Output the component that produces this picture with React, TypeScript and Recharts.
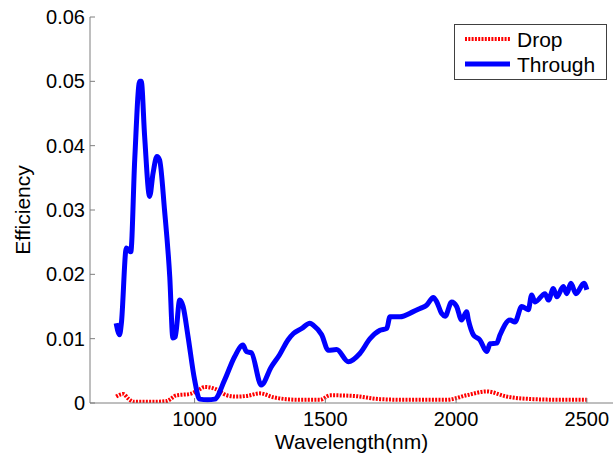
import { LineChart, Line, XAxis, YAxis, Legend } from 'recharts'

// Through port spectrum (wavelength in nm, efficiency)
const throughWl = [
  700, 713, 720, 739, 756, 771, 790, 796, 809, 828, 841, 856, 866, 885, 905, 917,
  926, 943, 956, 975, 1000, 1019, 1050, 1077, 1115, 1153, 1185, 1198, 1217, 1255,
  1293, 1325, 1357, 1378, 1410, 1441, 1454, 1486, 1511, 1543, 1588, 1632, 1671,
  1709, 1735, 1747, 1785, 1836, 1862, 1887, 1913, 1925, 1945, 1958, 1983, 2002,
  2021, 2040, 2047, 2066, 2091, 2117, 2130, 2155, 2168, 2206, 2225, 2251, 2276,
  2289, 2302, 2340, 2353, 2372, 2385, 2410, 2423, 2439, 2458, 2489, 2500,
]
const throughEff = [
  0.0124, 0.0106, 0.0124, 0.0241, 0.0235, 0.0378, 0.05, 0.05, 0.0414, 0.0321,
  0.0357, 0.0383, 0.0378, 0.03, 0.0196, 0.0101, 0.0103, 0.016, 0.015, 0.0103,
  0.0036, 0.0006, 0.0005, 0.0006, 0.0036, 0.0072, 0.009, 0.008, 0.0078, 0.0028,
  0.0056, 0.0075, 0.0098, 0.0108, 0.0116, 0.0124, 0.0121, 0.0106, 0.0082, 0.0083,
  0.0064, 0.0077, 0.01, 0.0113, 0.0116, 0.0134, 0.0134, 0.0142, 0.0147, 0.0152,
  0.0164, 0.0158, 0.0139, 0.0135, 0.0157, 0.015, 0.0129, 0.0142, 0.0129, 0.0106,
  0.0098, 0.008, 0.0092, 0.0093, 0.0106, 0.0129, 0.0126, 0.015, 0.0145, 0.0168,
  0.0157, 0.017, 0.016, 0.0178, 0.0165, 0.0181, 0.017, 0.0186, 0.017, 0.0186,
  0.0176,
]

// Drop port spectrum
const dropWl = [
  700, 715, 727, 746, 766, 800, 850, 893, 931, 982, 1010, 1040, 1078, 1123, 1160,
  1199, 1250, 1301, 1350, 1403, 1480, 1518, 1607, 1709, 1800, 1900, 1964, 2040,
  2117, 2193, 2295, 2400, 2500,
]
const dropEff = [
  0.001, 0.0013, 0.0014, 0.0007, 0.0002, 0.0002, 0.0002, 0.0003, 0.0012, 0.0014,
  0.0019, 0.0025, 0.0022, 0.0012, 0.001, 0.0011, 0.0015, 0.0009, 0.0006, 0.0005,
  0.0005, 0.0012, 0.0011, 0.0006, 0.0005, 0.0005, 0.0005, 0.0012, 0.0018, 0.001,
  0.0006, 0.0005, 0.0005,
]

const xTicks = [1000, 1500, 2000, 2500]
const yTicks = [0, 0.01, 0.02, 0.03, 0.04, 0.05, 0.06]

const throughData = throughWl.map((wl, i) => ({ wl, eff: throughEff[i] }))
const dropData = dropWl.map((wl, i) => ({ wl, eff: dropEff[i] }))

const AXIS = '#7f7f7f'
const FONT = '"Liberation Sans", Arial, sans-serif'

const series = [
  { name: 'Drop', color: '#ff0000', dash: '2 1.3', width: 4 },
  { name: 'Through', color: '#0000ff', dash: undefined, width: 5 },
]

function LegendBox() {
  return (
    <svg width={153} height={56} style={{ display: 'block' }}>
      <rect x={0.5} y={0.5} width={152} height={55} fill="#fff" stroke="#404040" />
      {series.map((s, i) => (
        <g key={s.name}>
          <line
            x1={11}
            x2={56}
            y1={15 + i * 25}
            y2={15 + i * 25}
            stroke={s.color}
            strokeWidth={s.width}
            strokeDasharray={s.dash}
          />
          <text x={63} y={23 + i * 24.5} fontSize={21} fontFamily={FONT} fill="#000">
            {s.name}
          </text>
        </g>
      ))}
    </svg>
  )
}

function EfficiencyLabel({ viewBox }: any) {
  const cx = viewBox.x + 30
  const cy = viewBox.y + viewBox.height / 2
  return (
    <text
      x={cx}
      y={cy}
      transform={`rotate(-90 ${cx} ${cy})`}
      textAnchor="middle"
      fontSize={21}
      fontFamily={FONT}
      fill="#000"
    >
      Efficiency
    </text>
  )
}

export default function App() {
  return (
    <div style={{ width: 614, height: 457, background: '#fff' }}>
      <style>{'body{margin:0}'}</style>
      <LineChart
        width={614}
        height={457}
        margin={{ top: 17, right: 1, bottom: 0, left: 0 }}
        style={{ fontFamily: FONT }}
      >
        <XAxis
          dataKey="wl"
          type="number"
          domain={[600, 2600]}
          ticks={xTicks}
          allowDataOverflow
          height={54}
          stroke={AXIS}
          tickSize={-5}
          tickMargin={14}
          tick={{ fill: '#000', fontSize: 20 }}
          label={{
            value: 'Wavelength(nm)',
            position: 'insideBottom',
            offset: 8,
            fill: '#000',
            fontSize: 21,
          }}
        />
        <XAxis
          xAxisId="top"
          orientation="top"
          dataKey="wl"
          type="number"
          domain={[600, 2600]}
          ticks={xTicks}
          allowDataOverflow
          height={0}
          stroke={AXIS}
          tickSize={-5}
          tick={false}
        />
        <YAxis
          type="number"
          domain={[0, 0.06]}
          ticks={yTicks}
          allowDataOverflow
          width={90}
          stroke={AXIS}
          tickSize={-5}
          tickMargin={10}
          tick={{ fill: '#000', fontSize: 20 }}
          tickFormatter={(v: number) => (v === 0 ? '0' : v.toFixed(2))}
          label={<EfficiencyLabel />}
        />
        <YAxis
          yAxisId="right"
          orientation="right"
          type="number"
          domain={[0, 0.06]}
          ticks={yTicks}
          allowDataOverflow
          width={0}
          stroke={AXIS}
          tickSize={-5}
          tick={false}
        />
        <Legend
          layout="vertical"
          align="center"
          verticalAlign="middle"
          wrapperStyle={{ top: 24, left: 454, width: 153, height: 56 }}
          content={() => <LegendBox />}
        />
        <Line
          data={dropData}
          dataKey="eff"
          name="Drop"
          type="monotone"
          stroke={series[0].color}
          strokeWidth={series[0].width}
          strokeDasharray={series[0].dash}
          dot={false}
          isAnimationActive={false}
        />
        <Line
          data={throughData}
          dataKey="eff"
          name="Through"
          type="monotone"
          stroke={series[1].color}
          strokeWidth={series[1].width}
          strokeLinejoin="round"
          dot={false}
          isAnimationActive={false}
        />
      </LineChart>
    </div>
  )
}
